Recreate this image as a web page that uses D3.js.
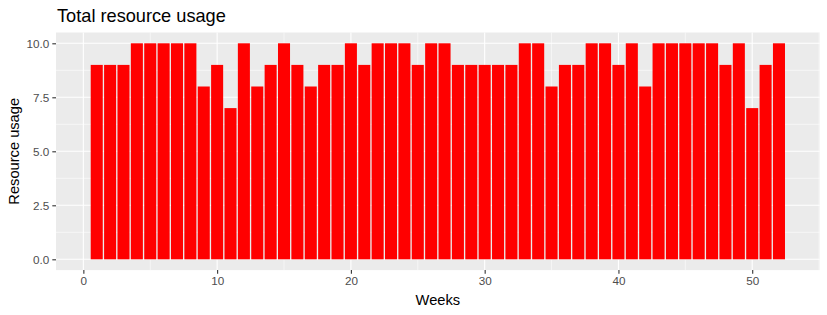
<!DOCTYPE html>
<html>
<head>
<meta charset="utf-8">
<script src="https://cdn.jsdelivr.net/npm/d3@7"></script>
<style>
  body { margin: 0; background: #fff; }
  svg text { font-family: "Liberation Sans", Arial, sans-serif; }
</style>
</head>
<body>
<div id="graph"></div>
<script>
"use strict";

// weekly resource usage
const weeks = d3.range(1, 53);
const usage = [9, 9, 9, 10, 10, 10, 10, 10, 8, 9,
               7, 10, 8, 9, 10, 9, 8, 9, 9, 10,
               9, 10, 10, 10, 9, 10, 10, 9, 9, 9,
               9, 9, 10, 10, 8, 9, 9, 10, 10, 9,
               10, 8, 10, 10, 10, 10, 10, 9, 10, 7,
               9, 10];
const xTicks = [0, 10, 20, 30, 40, 50];
const xMinor = [5, 15, 25, 35, 45, 55];
const yTicks = [0, 2.5, 5, 7.5, 10];
const yMinor = [1.25, 3.75, 6.25, 8.75];

let width = 827,
    height = 315;

const panel = { left: 56, right: 819.7, top: 32.5, bottom: 270.1 };

let svg = d3.select("#graph")
    .append("svg")
    .attr("width", width)
    .attr("height", height);

// ggplot style 5% expansion around the bars
let xLo = 0.55, xHi = 52.45, xPad = (xHi - xLo) * 0.05;
let x = d3.scaleLinear()
    .domain([xLo - xPad, xHi + xPad])
    .range([panel.left, panel.right]);

let y = d3.scaleLinear()
    .domain([-0.5, 10.5])
    .range([panel.bottom, panel.top]);

svg.append("rect")
    .attr("x", panel.left)
    .attr("y", panel.top)
    .attr("width", panel.right - panel.left)
    .attr("height", panel.bottom - panel.top)
    .attr("fill", "#EBEBEB");

let grid = svg.append("g").attr("id", "grid");

grid.selectAll(".yminor")
    .data(yMinor)
    .enter()
    .append("line")
    .attr("x1", panel.left).attr("x2", panel.right)
    .attr("y1", d => y(d)).attr("y2", d => y(d))
    .attr("stroke", "#fff").attr("stroke-width", 0.55);

grid.selectAll(".xminor")
    .data(xMinor.filter(d => x(d) <= panel.right))
    .enter()
    .append("line")
    .attr("y1", panel.top).attr("y2", panel.bottom)
    .attr("x1", d => x(d)).attr("x2", d => x(d))
    .attr("stroke", "#fff").attr("stroke-width", 0.55);

grid.selectAll(".ymajor")
    .data(yTicks)
    .enter()
    .append("line")
    .attr("x1", panel.left).attr("x2", panel.right)
    .attr("y1", d => y(d)).attr("y2", d => y(d))
    .attr("stroke", "#fff").attr("stroke-width", 1.1);

grid.selectAll(".xmajor")
    .data(xTicks)
    .enter()
    .append("line")
    .attr("y1", panel.top).attr("y2", panel.bottom)
    .attr("x1", d => x(d)).attr("x2", d => x(d))
    .attr("stroke", "#fff").attr("stroke-width", 1.1);

// bars, width 0.9 like geom_col
svg.append("g").attr("id", "bars")
    .selectAll("rect")
    .data(weeks)
    .enter()
    .append("rect")
    .attr("x", (d) => x(d - 0.45))
    .attr("width", (d) => x(d + 0.45) - x(d - 0.45))
    .attr("y", (d, i) => y(usage[i]))
    .attr("height", (d, i) => y(0) - y(usage[i]))
    .attr("fill", "#FF0000");

let xAxis = svg.append("g")
    .attr("transform", "translate(0," + panel.bottom + ")")
    .call(d3.axisBottom(x).tickValues(xTicks).tickFormat(d3.format("d"))
        .tickSize(3.7).tickPadding(3));

let yAxis = svg.append("g")
    .attr("transform", "translate(" + panel.left + ",0)")
    .call(d3.axisLeft(y).tickValues(yTicks).tickFormat(d3.format(".1f"))
        .tickSize(3.7).tickPadding(3));

[xAxis, yAxis].forEach(function (ax) {
    ax.select(".domain").remove();
    ax.selectAll(".tick line").attr("stroke", "#333333").attr("stroke-width", 1.1);
    ax.selectAll(".tick text")
        .attr("fill", "#4D4D4D")
        .style("font-size", "11.7px");
});

svg.append("text")
    .attr("x", panel.left + 1)
    .attr("y", 22)
    .style("font-size", "18.2px")
    .attr("fill", "#000")
    .text("Total resource usage");

svg.append("text")
    .attr("x", (panel.left + panel.right) / 2)
    .attr("y", 305)
    .attr("text-anchor", "middle")
    .style("font-size", "14.67px")
    .attr("fill", "#000")
    .text("Weeks");

svg.append("text")
    .attr("transform", "translate(19," + ((panel.top + panel.bottom) / 2) + ") rotate(-90)")
    .attr("text-anchor", "middle")
    .style("font-size", "14.67px")
    .attr("fill", "#000")
    .text("Resource usage");
</script>
</body>
</html>
